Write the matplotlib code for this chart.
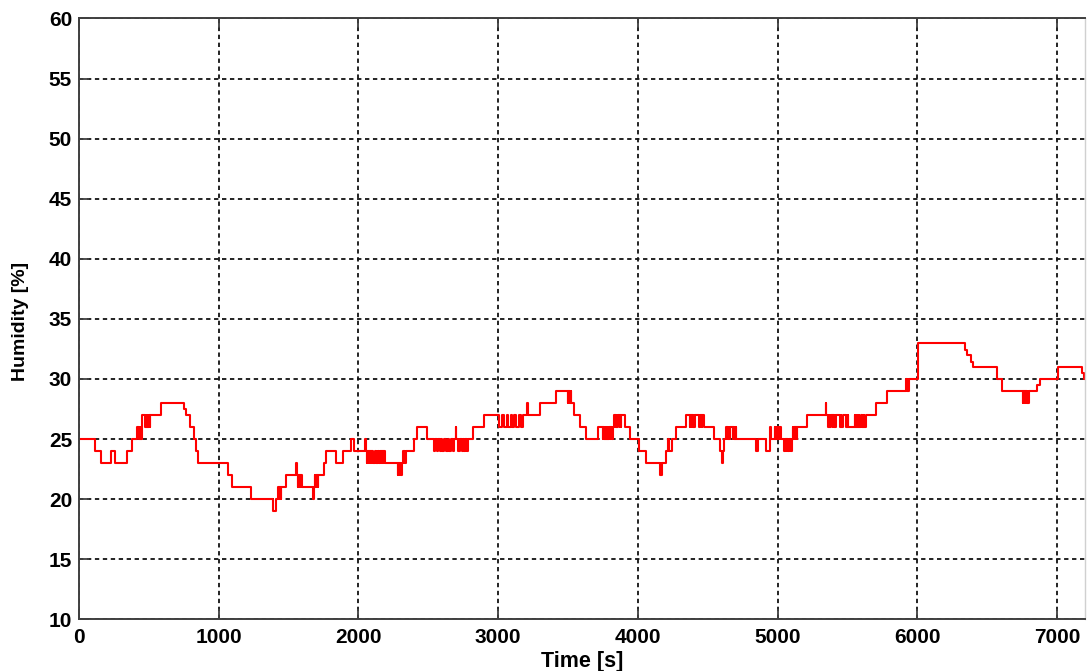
import matplotlib
matplotlib.use("Agg")
import matplotlib.pyplot as plt

# humidity log, step values (value holds until the next time stamp)
time_s = [
    0, 112, 160, 227, 255, 341, 382, 418, 430, 434,
    438, 442, 446, 450, 454, 473, 477, 481, 485, 489,
    493, 497, 501, 505, 509, 590, 752, 769, 793, 824,
    840, 848, 855, 1063, 1098, 1229, 1385, 1409, 1425, 1429,
    1433, 1437, 1441, 1445, 1449, 1480, 1552, 1559, 1564, 1568,
    1572, 1576, 1580, 1584, 1588, 1592, 1596, 1674, 1679, 1688,
    1692, 1696, 1700, 1704, 1708, 1712, 1750, 1766, 1840, 1888,
    1946, 1970, 2049, 2054, 2058, 2062, 2066, 2070, 2080, 2084,
    2088, 2092, 2096, 2100, 2104, 2120, 2125, 2130, 2135, 2140,
    2150, 2154, 2158, 2162, 2166, 2170, 2174, 2178, 2182, 2186,
    2190, 2280, 2284, 2288, 2292, 2296, 2300, 2304, 2311, 2320,
    2324, 2328, 2332, 2340, 2399, 2416, 2488, 2543, 2550, 2560,
    2570, 2580, 2590, 2600, 2615, 2625, 2640, 2650, 2665, 2675,
    2686, 2696, 2700, 2710, 2716, 2722, 2730, 2740, 2746, 2752,
    2760, 2766, 2772, 2778, 2785, 2822, 2900, 3003, 3030, 3045,
    3060, 3070, 3090, 3100, 3115, 3125, 3150, 3160, 3175, 3209,
    3213, 3300, 3414, 3498, 3502, 3506, 3510, 3514, 3518, 3522,
    3546, 3587, 3630, 3715, 3749, 3753, 3757, 3761, 3765, 3769,
    3773, 3777, 3781, 3785, 3789, 3793, 3797, 3801, 3805, 3809,
    3813, 3825, 3830, 3835, 3839, 3843, 3847, 3851, 3855, 3870,
    3874, 3878, 3882, 3904, 3940, 4011, 4059, 4159, 4164, 4168,
    4174, 4202, 4214, 4225, 4245, 4274, 4346, 4370, 4374, 4378,
    4382, 4386, 4390, 4394, 4398, 4402, 4406, 4440, 4445, 4449,
    4453, 4457, 4461, 4470, 4541, 4589, 4605, 4609, 4613, 4632,
    4636, 4640, 4644, 4650, 4654, 4660, 4680, 4684, 4688, 4692,
    4696, 4700, 4704, 4842, 4858, 4918, 4942, 4950, 4978, 4982,
    4986, 4990, 4994, 4998, 5002, 5006, 5010, 5014, 5018, 5025,
    5049, 5053, 5057, 5061, 5065, 5070, 5076, 5080, 5085, 5090,
    5095, 5100, 5109, 5113, 5117, 5121, 5125, 5129, 5133, 5137,
    5141, 5209, 5345, 5349, 5360, 5366, 5370, 5374, 5378, 5382,
    5395, 5399, 5403, 5407, 5411, 5420, 5446, 5450, 5454, 5470,
    5490, 5494, 5498, 5502, 5506, 5552, 5556, 5560, 5564, 5572,
    5576, 5580, 5584, 5600, 5604, 5608, 5612, 5616, 5620, 5631,
    5707, 5783, 5922, 5926, 5930, 5934, 5941, 6006, 6339, 6356,
    6387, 6399, 6567, 6603, 6753, 6757, 6761, 6765, 6769, 6773,
    6777, 6781, 6785, 6789, 6793, 6798, 6858, 6877, 7008, 7175,
    7194, 7200,
]
humidity = [
    25, 24, 23, 24, 23, 24, 25, 26, 25, 26,
    25, 26, 25, 26, 27, 26, 27, 26, 27, 26,
    27, 26, 27, 26, 27, 28, 27.5, 27, 26, 25,
    24, 23.5, 23, 22, 21, 20, 19, 20, 21, 20,
    21, 20, 21, 20, 21, 22, 23, 22, 21, 22,
    21, 22, 21, 22, 21, 22, 21, 20, 21, 22,
    21, 22, 21, 22, 21, 22, 23, 24, 23, 24,
    25, 24, 25, 24, 23, 24, 23, 24, 23, 24,
    23, 24, 23, 24, 23, 24, 23, 24, 23, 24,
    23, 24, 23, 24, 23, 24, 23, 24, 23, 24,
    23, 22, 23, 22, 23, 22, 23, 22, 23, 24,
    23, 24, 23, 24, 25, 26, 25, 24, 25, 24,
    25, 24, 25, 24, 25, 24, 25, 24, 25, 24,
    25, 26, 25, 24, 25, 24, 25, 24, 25, 24,
    25, 24, 25, 24, 25, 26, 27, 26, 27, 26,
    27, 26, 27, 26, 27, 26, 27, 26, 27, 28,
    27, 28, 29, 28, 29, 28, 29, 28, 29, 28,
    27, 26, 25, 26, 25, 26, 25, 26, 25, 26,
    25, 26, 25, 26, 25, 26, 25, 26, 25, 26,
    25, 26, 27, 26, 27, 26, 27, 26, 27, 26,
    27, 26, 27, 26, 25, 24, 23, 22, 23, 22,
    23, 24, 25, 24, 25, 26, 27, 26, 27, 26,
    27, 26, 27, 26, 27, 26, 27, 26, 27, 26,
    27, 26, 27, 26, 25, 24, 23, 24, 25, 26,
    25, 26, 25, 26, 25, 26, 25, 26, 25, 26,
    25, 26, 25, 24, 25, 24, 26, 25, 26, 25,
    26, 25, 26, 25, 26, 25, 26, 25, 26, 25,
    24, 25, 24, 25, 24, 25, 24, 25, 24, 25,
    24, 25, 26, 25, 26, 25, 26, 25, 26, 25,
    26, 27, 28, 27, 26, 27, 26, 27, 26, 27,
    26, 27, 26, 27, 26, 27, 26, 27, 26, 27,
    26, 27, 26, 27, 26, 27, 26, 27, 26, 27,
    26, 27, 26, 27, 26, 27, 26, 27, 26, 27,
    28, 29, 30, 29, 30, 29, 30, 33, 32.4, 32,
    31.4, 31, 30, 29, 28, 29, 28, 29, 28, 29,
    28, 29, 28, 29, 28, 29, 29.5, 30, 31, 30.5,
    30, 30,
]
assert len(time_s) == len(humidity)

x_ticks = [0, 1000, 2000, 3000, 4000, 5000, 6000, 7000]
y_ticks = [10, 15, 20, 25, 30, 35, 40, 45, 50, 55, 60]

plt.rcParams['font.family'] = ['Liberation Sans', 'DejaVu Sans']
plt.rcParams['font.weight'] = 'bold'

fig = plt.figure(figsize=(10.87, 6.71), dpi=100)
ax = fig.add_axes([0.0727, 0.0770, 0.9255, 0.8955])

ax.plot(time_s, humidity, drawstyle='steps-post', color='#ff0000', linewidth=1.5)

ax.set_xlim(0, 7200)
ax.set_ylim(10, 60)
ax.set_xticks(x_ticks)
ax.set_yticks(y_ticks)

ax.grid(True, color='#111111', linestyle=(0, (2.4, 2.0)), linewidth=1.3)
ax.tick_params(direction='in', length=7, width=1.3, top=True, right=False,
               labelsize=15, color='#404040')
ax.tick_params(axis='x', pad=6.5)
ax.tick_params(axis='y', pad=5)
for lbl in ax.get_xticklabels() + ax.get_yticklabels():
    lbl.set_fontweight('bold')
for sp in ax.spines.values():
    sp.set_color('#404040')
    sp.set_linewidth(1.4)
ax.spines['right'].set_color('#d0d0d0')
ax.spines['right'].set_linewidth(1.0)

ax.set_xlabel('Time [s]', fontsize=15.5, fontweight='bold')
ax.set_ylabel('Humidity [%]', fontsize=14, fontweight='bold')
ax.xaxis.set_label_coords(0.5, -0.052)
ax.yaxis.set_label_coords(-0.05, 0.495)

fig.savefig('out.png', dpi=100)
